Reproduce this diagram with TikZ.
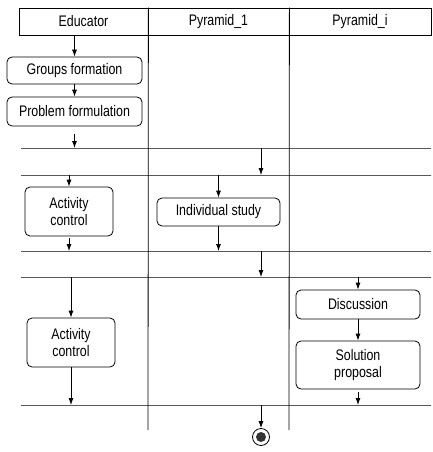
\documentclass[tikz,border=0pt]{standalone}
\usepackage{fontspec}
\setmainfont{Liberation Sans}[FakeStretch=0.81]
\usetikzlibrary{arrows.meta}

\tikzset{
  lane/.style={draw, inner sep=0pt, minimum height=27pt},
  act/.style={draw, rounded corners=5pt, inner sep=0pt, align=center},
  bar/.style={draw, inner sep=0pt, minimum height=0pt, minimum width=410pt},
  flow/.style={-{Latex[length=7pt,width=5pt]}}
}

\begin{document}
\begin{tikzpicture}[x=1pt, y=-1pt, line width=0.8pt,
    font=\fontsize{15.3}{17}\selectfont]
  \useasboundingbox (0,0) rectangle (433,452);
  % swimlanes
  \path node (E)  at ( 83.5,21.5) [lane, minimum width=129pt] {Educator}
        node (P1) at (218.5,21.5) [lane, minimum width=141pt] {Pyramid\_1}
        node (Pi) at (360,  21.5) [lane, minimum width=142pt] {Pyramid\_i};
  \coordinate (L1) at (148,430);
  \coordinate (L2) at (289,430);
  \draw (E.north east) -- (L1)
        (P1.north east) -- (L2);
  % sync bars
  \path node (B1) at (226,148) [bar] {}
        node (B2) at (226,175) [bar] {}
        node (B3) at (226,251) [bar] {}
        node (B4) at (226,277) [bar] {}
        node (B5) at (226,405) [bar] {};
  % activities
  \path node (GF) at (74.5, 70.5) [act, minimum width=135pt, minimum height=27pt] {Groups formation}
        node (PF) at (74.5,111.5) [act, minimum width=135pt, minimum height=29pt] {Problem formulation}
        node (AC1) at (69,211.5)  [act, minimum width=88pt, minimum height=49pt] {Activity\\control}
        node (IS) at (218.5,212)  [act, minimum width=123pt, minimum height=28pt] {Individual study}
        node (AC2) at (71,342.5)  [act, minimum width=88pt, minimum height=49pt] {Activity\\control}
        node (D)  at (358,304.5)  [act, minimum width=124pt, minimum height=29pt] {Discussion}
        node (SP) at (358,365)    [act, minimum width=124pt, minimum height=48pt] {Solution\\proposal};
  \coordinate (J) at (261,0);
  \path node (F)  at (261,437) [circle, draw, minimum size=17pt, inner sep=0pt] {}
        node (Fi) at (261,437) [circle, fill=black!80, minimum size=10pt, inner sep=0pt] {};
  % transitions
  \draw[flow] (GF |- E.south) -- (GF);
  \draw[flow] (GF) -- (PF);
  \draw[flow] ([yshift=-8pt]PF.south) -- (PF |- B1);
  \draw[flow] (J |- B1) -- (J |- B2);
  \draw[flow] (AC1 |- B2) -- (AC1);
  \draw[flow] ([yshift=-2pt]AC1.south) -- (AC1 |- B3);
  \draw[flow] (IS |- B2) -- (IS);
  \draw[flow] (IS) -- (IS |- B3);
  \draw[flow] (J |- B3) -- (J |- B4);
  \draw[flow] (AC2 |- B4) -- (AC2);
  \draw[flow] (AC2) -- (AC2 |- B5);
  \draw[flow] (D |- B4) -- (D);
  \draw[flow] (D) -- (SP);
  \draw[flow] ([yshift=-3pt]SP.south) -- (SP |- B5);
  \draw[flow] (J |- B5) -- (F);
\end{tikzpicture}
\end{document}
